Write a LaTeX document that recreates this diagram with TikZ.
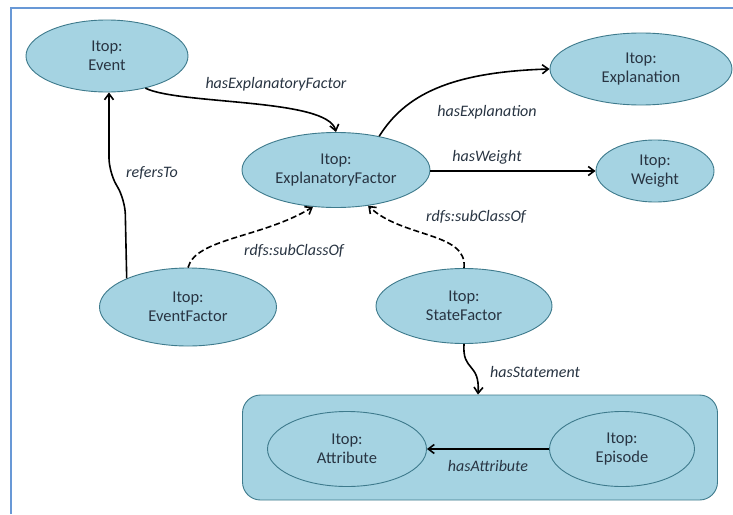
\documentclass[tikz,border=0pt]{standalone}
\usepackage{fontspec}
\setmainfont{Carlito}
\usetikzlibrary{arrows.meta,shapes.geometric}
\definecolor{nodefill}{RGB}{165,211,226}
\definecolor{nodeline}{RGB}{62,122,140}
\definecolor{frameblue}{RGB}{104,152,214}
\definecolor{txt}{RGB}{40,52,66}
\tikzset{
  cls/.style={ellipse, draw=nodeline, fill=nodefill, line width=0.9pt, inner sep=0pt,
    align=center, font=\fontsize{16.5}{18.5}\selectfont, text=txt},
  rel/.style={-{Straight Barb[length=6pt,width=9pt]}, line width=1.6pt, black},
  sub/.style={rel, dash pattern=on 6pt off 3pt},
  lbl/.style={font=\fontsize{16}{18}\selectfont\itshape, text=txt, inner sep=1pt}
}
\begin{document}
\begin{tikzpicture}[x=1pt,y=-1pt]
\useasboundingbox (0,0) rectangle (733,514);
\fill[white] (0,0) rectangle (733,514);
\draw[frameblue, line width=2pt] (11,514) -- (11,8) -- (733,8);
% container
\node[draw=nodeline, fill=nodefill, line width=0.9pt, rounded corners=18pt,
  minimum width=475pt, minimum height=105pt] (box) at (480,447.5) {};
% nodes
\node[cls, minimum width=162pt, minimum height=72pt] (event) at (107,56) {Itop:\\Event};
\node[cls, minimum width=182pt, minimum height=72pt] (expl) at (641,69) {Itop:\\Explanation};
\node[cls, minimum width=188pt, minimum height=75pt] (ef) at (336,170) {Itop:\\ExplanatoryFactor};
\node[cls, minimum width=118pt, minimum height=62pt] (w) at (655,171) {Itop:\\Weight};
\node[cls, minimum width=177pt, minimum height=78pt] (evf) at (188,307) {Itop:\\EventFactor};
\node[cls, minimum width=176pt, minimum height=75pt] (sf) at (464,306) {Itop:\\StateFactor};
\node[cls, minimum width=159pt, minimum height=75pt] (attr) at (347,449) {Itop:\\Attribute};
\node[cls, minimum width=145pt, minimum height=75pt] (epi) at (622,449) {Itop:\\Episode};
% helper coordinates
\coordinate (rt1) at (125,200);
\coordinate (rt2) at (109,172);
% edges
\draw[rel] (event.-40) .. controls (180,105) and (328,98) .. (ef.north);
\node[lbl] (l1) at (276,84) {hasExplanatoryFactor};
\draw[rel] (ef.38) .. controls (405,95) and (450,72) .. (expl.west);
\node[lbl] (l2) at (487,112) {hasExplanation};
\draw[rel] (ef.east |- w.west) -- (w.west);
\node[lbl] (l3) at (487,157) {hasWeight};
\draw[rel, rounded corners=14pt] (evf.155) -- (rt1) -- (rt2) -- (event.-90 -| rt2);
\node[lbl] (l4) at (152,173) {refersTo};
\draw[sub] (evf.north) .. controls (196,238) and (262,238) .. (ef.-122);
\node[lbl] (l5) at (294,251) {rdfs:subClassOf};
\draw[sub] (sf.north) .. controls (468,232) and (402,238) .. (ef.-48);
\node[lbl] (l6) at (476,217) {rdfs:subClassOf};
\draw[rel] (sf.south) .. controls (462,372) and (480,362) .. (box.north -| 478,0);
\node[lbl] (l7) at (535,372) {hasStatement};
\draw[rel] (epi.west) -- (attr.east);
\node[lbl] (l8) at (488,466) {hasAttribute};
\end{tikzpicture}
\end{document}
